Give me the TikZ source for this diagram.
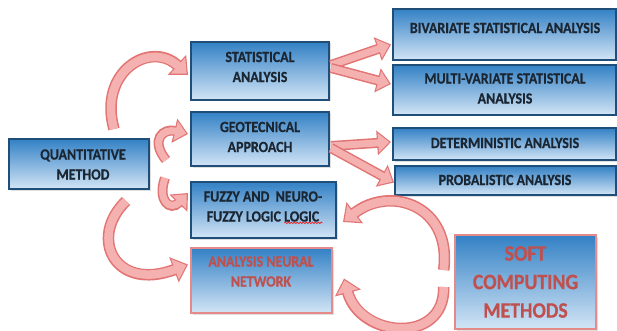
\documentclass[tikz,border=0pt]{standalone}
\usepackage{fontspec}
\setmainfont{Carlito}[FakeStretch=0.9, BoldFeatures={FakeBold=0.5}]
\usetikzlibrary{arrows.meta,calc,shadows,decorations.pathmorphing}
\definecolor{boxtop}{HTML}{3381C5}
\definecolor{boxbot}{HTML}{D3E5F6}
\definecolor{boxedge}{HTML}{1F4E79}
\definecolor{pinkfill}{HTML}{F5B0B0}
\definecolor{pinkedge}{HTML}{E27474}
\definecolor{txt}{HTML}{1B2633}
\definecolor{redtxt}{HTML}{C0504D}
\tikzset{
  box/.style={draw=boxedge, line width=2pt, top color=boxtop, bottom color=boxbot,
    inner sep=0pt, drop shadow={opacity=0.25, shadow xshift=1.5pt, shadow yshift=-1.5pt}},
  pinkbox/.style={box, draw=pinkedge!85},
  lbl/.style={font=\fontsize{15.5}{20}\selectfont\bfseries, text=txt, align=center, inner sep=0pt},
  redlbl/.style={lbl, text=redtxt},
  biglbl/.style={font=\fontsize{22}{28.5}\selectfont\bfseries, text=redtxt, align=center, inner sep=0pt},
  arrout/.style={pinkedge, line width=10pt, -{Triangle[length=14pt,width=24pt]}},
  arrin/.style={pinkfill, line width=7pt, shorten >=1.8pt, -{Triangle[length=11pt,width=19pt]}},
  carrout/.style={pinkedge, line width=11.5pt, -{Triangle[length=15pt,width=26pt]}},
  carrin/.style={pinkfill, line width=8.5pt, shorten >=1.8pt, -{Triangle[length=12pt,width=21pt]}},
  squiggle/.style={red, line width=0.6pt, decorate, decoration={snake, amplitude=0.8pt, segment length=3pt}},
}
\newcommand\pinkarrow[1]{%
  \draw[arrout] #1;
  \draw[arrin] #1;}
\newcommand\curvearrow[1]{%
  \draw[carrout] #1;
  \draw[carrin] #1;}
\begin{document}
\begin{tikzpicture}[x=1pt,y=-1pt]
\useasboundingbox[fill=white] (0,0) rectangle (617,331);

% boxes
\node[box, minimum width=140pt, minimum height=50pt] (qm) at (79,164) {};
\node[box, minimum width=138pt, minimum height=58pt] (stat) at (260,71) {};
\node[box, minimum width=138pt, minimum height=54pt] (geo) at (260,139) {};
\node[box, minimum width=145pt, minimum height=56pt] (fuzzy) at (263.5,210) {};
\node[pinkbox, minimum width=141pt, minimum height=65pt] (neural) at (261.5,280.5) {};
\node[box, minimum width=223pt, minimum height=51pt] (biv) at (504.5,34.5) {};
\node[box, minimum width=223pt, minimum height=50pt] (multi) at (504.5,90) {};
\node[box, minimum width=223pt, minimum height=32pt] (det) at (504.5,144) {};
\node[box, minimum width=221pt, minimum height=29pt] (prob) at (505.5,180.5) {};
\node[pinkbox, line width=2.6pt, minimum width=141pt, minimum height=94pt] (soft) at (525.5,282) {};

% labels
\node[lbl] (qm-t) at (83,164.5) {QUANTITATIVE\\METHOD};
\node[lbl] (stat-t) at (260,67) {STATISTICAL\\ANALYSIS};
\node[lbl] (geo-t) at (260,137) {GEOTECNICAL\\APPROACH};
\node[lbl] (fuzzy-t) at (263,206.5) {FUZZY AND~ NEURO-\\FUZZY LOGIC LOGIC};
\draw[squiggle] ($(fuzzy-t.south east)+(-38,1)$) -- ($(fuzzy-t.south east)+(0,1)$);
\node[redlbl] (neural-t) at (261,271.5) {ANALYSIS NEURAL\\NETWORK};
\node[lbl] (biv-t) at (505,28) {BIVARIATE STATISTICAL ANALYSIS};
\node[lbl] (multi-t) at (505,88.5) {MULTI-VARIATE STATISTICAL\\ANALYSIS};
\node[lbl] (det-t) at (505,143) {DETERMINISTIC ANALYSIS};
\node[lbl] (prob-t) at (505,180) {PROBALISTIC ANALYSIS};
\node[biglbl] (soft-t) at (525.5,282) {SOFT\\COMPUTING\\METHODS};

% free ends
\coordinate (a1) at (114,129);
\coordinate (a2) at (166,160);
\coordinate (a3) at (165,178);
\coordinate (a4) at (126,201);

% curved arrows from quantitative method
\curvearrow{(a1) .. controls (98,72) and (150,40) .. ($(stat.west)+(-2,4)$)}
\pinkarrow{(a2) .. controls (150,140) and (163,128) .. ($(geo.west)+(-2,-5)$)}
\pinkarrow{(a3) .. controls (157,200) and (170,212) .. ($(fuzzy.west)+(-2,-17)$)}
\curvearrow{(a4) .. controls (88,238) and (115,292) .. ($(neural.west)+(-2,-16)$)}

% straight arrows
\pinkarrow{($(stat.east)+(1,-6)$) -- ($(biv.west)+(-1,10)$)}
\pinkarrow{($(stat.east)+(1,-3)$) -- ($(multi.west)+(-1,-6)$)}
\pinkarrow{($(geo.east)+(1,7)$) -- ($(det.west)+(-1,-2)$)}
\pinkarrow{($(geo.east)+(1,9)$) -- ($(prob.west)+(0,2)$)}

% soft computing loop
\curvearrow{($(soft.west)+(-10,-12)$) .. controls (452,205) and (390,185) .. ($(fuzzy.east)+(6,12)$)}
\curvearrow{($(soft.west)+(-10,5)$) .. controls (445,345) and (360,338) .. ($(neural.east)+(11,-2)$)}
\end{tikzpicture}
\end{document}
